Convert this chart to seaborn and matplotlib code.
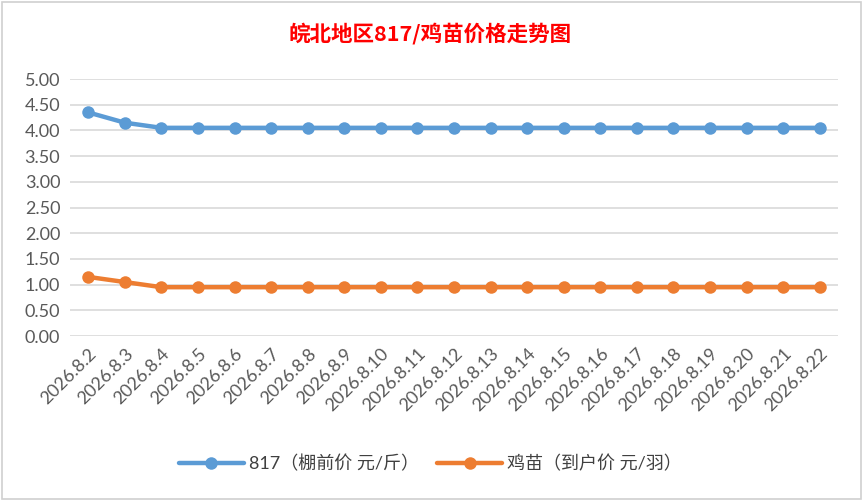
import pandas as pd
import seaborn as sns
import matplotlib.pyplot as plt
from matplotlib.patches import Rectangle

# data
dates = ['2026.8.%d' % d for d in range(2, 23)]
price_817 = [4.35, 4.15] + [4.05] * 19
price_chick = [1.15, 1.05] + [0.95] * 19
series_names = ['817（棚前价 元/斤）', '鸡苗（到户价 元/羽）']
colors = ['#5B9BD5', '#ED7D31']


def main():
    sns.set_style('white')
    plt.rcParams['font.family'] = ['Lato', 'Noto Sans CJK SC', 'DejaVu Sans']

    df = pd.DataFrame({
        'date': dates * 2,
        'price': price_817 + price_chick,
        'series': [series_names[0]] * len(dates) + [series_names[1]] * len(dates),
    })

    fig = plt.figure(figsize=(8.66, 5.01), dpi=100)
    ax = fig.add_axes([0.0808, 0.3293, 0.8869, 0.513])

    sns.lineplot(data=df, x='date', y='price', hue='series', palette=colors,
                 marker='o', markersize=9, markeredgewidth=0, linewidth=3.2,
                 sort=False, ax=ax)

    ax.set_xlim(-0.5, len(dates) - 0.5)
    ax.set_ylim(0, 5)
    ax.set_yticks([i * 0.5 for i in range(11)])
    ax.set_yticklabels(['%.2f' % (i * 0.5) for i in range(11)])
    ax.yaxis.grid(True, color='#D9D9D9', linewidth=1.2)
    ax.set_axisbelow(True)
    for s in ax.spines.values():
        s.set_visible(False)
    ax.tick_params(axis='both', length=0, labelsize=13, colors='#595959', pad=7)
    plt.setp(ax.get_xticklabels(), rotation=45, ha='right', rotation_mode='anchor')
    ax.set_xlabel('')
    ax.set_ylabel('')

    leg = ax.legend(loc='center', ncol=2, frameon=False, fontsize=13,
                    handlelength=3.6, columnspacing=1.0, handletextpad=0.3)
    leg.set_bbox_to_anchor((0.497, 0.074), transform=fig.transFigure)
    for t in leg.get_texts():
        t.set_color('#404040')

    fig.text(0.497, 0.934, '皖北地区817/鸡苗价格走势图', color='#FF0000',
             fontsize=15.5, fontweight='bold', ha='center', va='center',
             family=['Noto Sans CJK SC', 'DejaVu Sans'])

    # chart frame
    fig.patches.append(Rectangle((0.002, 0.003), 0.992, 0.993, transform=fig.transFigure,
                                 fill=False, edgecolor='#D0D0D0', linewidth=1.2))

    fig.savefig('out.png', dpi=100)


if __name__ == '__main__':
    main()
